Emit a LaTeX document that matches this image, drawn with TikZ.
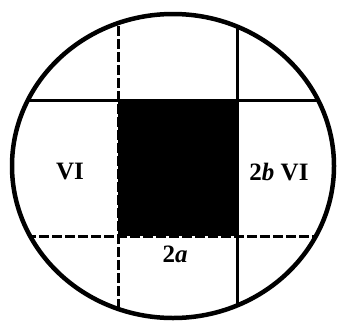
\documentclass[tikz,border=0pt]{standalone}
\usepackage{fontspec}
\setmainfont{Liberation Serif}
\begin{document}
\begin{tikzpicture}[x=1pt,y=-1pt,
  gridsolid/.style={line width=3pt},
  griddash/.style={line width=3pt,dash pattern=on 10pt off 3pt},
  lbl/.style={font=\bfseries\fontsize{25}{25}\selectfont,inner sep=0pt}]
\useasboundingbox (0,0) rectangle (339,324);
\fill[white] (0,0) rectangle (339,324);
\begin{scope}
  \clip (173,166) ellipse [x radius=161pt, y radius=152pt];
  \fill[black] (118,100) rectangle (237,236);
  \draw[gridsolid] (0,100) -- (339,100);
  \draw[griddash] (0,236) -- (339,236);
  \draw[griddash] (118,0) -- (118,324);
  \draw[gridsolid] (237,0) -- (237,324);
\end{scope}
\draw[line width=4.5pt] (173,166) ellipse [x radius=161pt, y radius=152pt];
\node[lbl] (vi) at (70,172) {VI};
\node[lbl] (bvi) at (279,172) {2\textit{b} VI};
\node[lbl] (a) at (175,254) {2\textit{a}};
\end{tikzpicture}
\end{document}
